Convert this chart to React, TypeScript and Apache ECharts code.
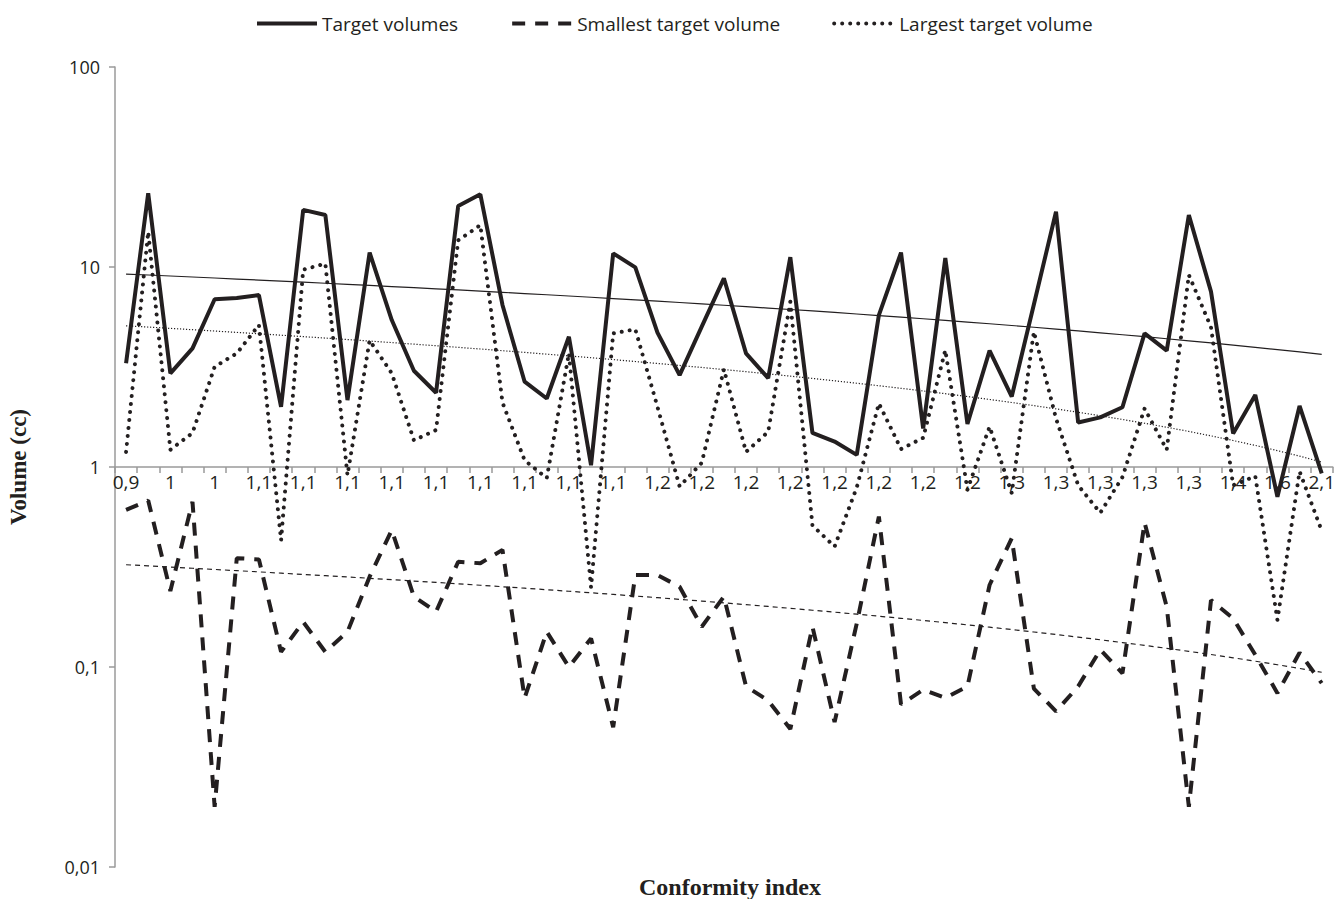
import React, { useEffect, useRef } from "react";
import * as echarts from "echarts";

const categories: string[] = [
  "0,9", "1", "1", "1", "1", "1", "1,1", "1,1", "1,1", "1,1",
  "1,1", "1,1", "1,1", "1,1", "1,1", "1,1", "1,1", "1,1", "1,1", "1,1",
  "1,1", "1,1", "1,1", "1,2", "1,2", "1,2", "1,2", "1,2", "1,2", "1,2",
  "1,2", "1,2", "1,2", "1,2", "1,2", "1,2", "1,2", "1,2", "1,2", "1,3",
  "1,3", "1,3", "1,3", "1,3", "1,3", "1,3", "1,3", "1,3", "1,3", "1,3",
  "1,4", "1,5", "1,6", "1,8", "2,1",
];

const targetVolumes: number[] = [
  3.3, 23.4, 2.94, 3.92, 6.9, 7.0, 7.24, 2.0, 19.3, 18.2,
  2.16, 11.8, 5.43, 3.03, 2.35, 20.2, 23.1, 6.46, 2.67, 2.2,
  4.48, 1.02, 11.7, 9.96, 4.7, 2.88, 5.03, 8.78, 3.7, 2.78,
  11.2, 1.48, 1.34, 1.15, 5.75, 11.8, 1.56, 11.1, 1.64, 3.82,
  2.25, 6.5, 18.9, 1.67, 1.77, 1.99, 4.66, 3.82, 18.2, 7.53,
  1.47, 2.29, 0.71, 2.02, 0.93,
];

const smallestVolume: number[] = [
  0.61, 0.68, 0.24, 0.67, 0.02, 0.35, 0.345, 0.119, 0.168, 0.119,
  0.15, 0.283, 0.484, 0.225, 0.189, 0.336, 0.33, 0.385, 0.07, 0.15,
  0.1, 0.139, 0.05, 0.288, 0.288, 0.252, 0.159, 0.225, 0.08, 0.068,
  0.049, 0.159, 0.053, 0.165, 0.565, 0.065, 0.077, 0.07, 0.08, 0.257,
  0.44, 0.078, 0.06, 0.08, 0.122, 0.093, 0.527, 0.2, 0.02, 0.216,
  0.175, 0.115, 0.074, 0.118, 0.083,
];

const largestVolume: number[] = [
  1.19, 15.0, 1.22, 1.48, 3.17, 3.7, 5.13, 0.43, 9.7, 10.4,
  0.91, 4.3, 2.94, 1.36, 1.53, 13.6, 16.2, 2.1, 1.08, 0.88,
  3.7, 0.25, 4.66, 4.88, 2.0, 0.8, 1.05, 3.08, 1.19, 1.5,
  6.7, 0.51, 0.4, 0.79, 2.08, 1.23, 1.4, 3.84, 0.77, 1.59,
  0.74, 4.75, 1.75, 0.81, 0.59, 0.89, 1.96, 1.22, 9.12, 5.0,
  0.81, 0.9, 0.172, 0.95, 0.48,
];

const yTicks: number[] = [0.01, 0.1, 1, 10, 100];

// Linear trendline (least squares), as Excel computes it
function linearTrend(values: number[]): number[] {
  const n = values.length;
  let sx = 0, sy = 0, sxx = 0, sxy = 0;
  values.forEach((v, i) => {
    sx += i; sy += v; sxx += i * i; sxy += i * v;
  });
  const b = (n * sxy - sx * sy) / (n * sxx - sx * sx);
  const a = (sy - b * sx) / n;
  return values.map((_, i) => a + b * i);
}

const INK = "#231f20";
const AXIS = "#9a9a9a";
const FONT = "'Open Sans', 'Liberation Sans', sans-serif";

const SOLID = { color: INK, width: 4, type: "solid" as any };
const DASHED = { color: INK, width: 4, type: [13, 10] as any };
const DOTTED = { color: INK, width: 4, type: [0.01, 8] as any, cap: "round" as any };

export default function App() {
  const ref = useRef<HTMLDivElement>(null);

  useEffect(() => {
    if (!ref.current) return;
    const chart = echarts.init(ref.current, undefined, { renderer: "svg" });
    const option: any = {
      animation: false,
      backgroundColor: "#ffffff",
      textStyle: { fontFamily: FONT, color: INK },
      grid: { left: 115, right: 2, top: 67, bottom: 32, containLabel: false },
      legend: {
        data: [
          { name: "Target volumes", lineStyle: SOLID, itemStyle: { opacity: 0 } },
          { name: "Smallest target volume", lineStyle: DASHED, itemStyle: { opacity: 0 } },
          { name: "Largest target volume", lineStyle: DOTTED, itemStyle: { opacity: 0 } },
        ],
        left: 250,
        top: 9,
        itemWidth: 60,
        itemHeight: 14,
        itemGap: 52,
        textStyle: { fontFamily: FONT, fontSize: 19, color: INK },
      },
      xAxis: {
        type: "category",
        data: categories,
        boundaryGap: true,
        position: "bottom",
        offset: -400,
        axisLine: { show: true, onZero: false, lineStyle: { color: AXIS, width: 1.5 } },
        axisTick: { show: true, interval: 0, length: 6, lineStyle: { color: AXIS, width: 1.5 } },
        axisLabel: {
          interval: 1,
          margin: 5,
          fontFamily: FONT,
          fontSize: 19,
          color: INK,
        },
        splitLine: { show: false },
      },
      yAxis: {
        type: "log",
        logBase: 10,
        min: yTicks[0],
        max: yTicks[yTicks.length - 1],
        axisLine: { show: true, lineStyle: { color: AXIS, width: 1.5 } },
        axisTick: { show: true, length: 6, lineStyle: { color: AXIS, width: 1.5 } },
        axisLabel: {
          margin: 15,
          fontFamily: FONT,
          fontSize: 18,
          color: INK,
          formatter: (v: number) => String(v).replace(".", ","),
        },
        splitLine: { show: false },
      },
      graphic: [
        {
          type: "text",
          x: 18,
          y: 467,
          rotation: Math.PI / 2,
          style: {
            text: "Volume (cc)",
            font: "bold 23px 'Liberation Serif', 'Times New Roman', serif",
            fill: INK,
            textAlign: "center",
            textVerticalAlign: "middle",
          },
        },
        {
          type: "text",
          x: 730,
          y: 887,
          style: {
            text: "Conformity index",
            font: "bold 24px 'Liberation Serif', 'Times New Roman', serif",
            fill: INK,
            textAlign: "center",
            textVerticalAlign: "middle",
          },
        },
      ],
      series: [
        {
          name: "Target volumes",
          type: "line",
          data: targetVolumes,
          symbol: "none",
          lineStyle: SOLID,
          itemStyle: { color: INK },
          z: 5,
        },
        {
          name: "Smallest target volume",
          type: "line",
          data: smallestVolume,
          symbol: "none",
          lineStyle: DASHED,
          itemStyle: { color: INK },
          z: 4,
        },
        {
          name: "Largest target volume",
          type: "line",
          data: largestVolume,
          symbol: "none",
          lineStyle: DOTTED,
          itemStyle: { color: INK },
          z: 3,
        },
        {
          name: "Trend target",
          type: "line",
          data: linearTrend(targetVolumes),
          symbol: "none",
          lineStyle: { color: INK, width: 1.2, type: "solid" },
          z: 2,
          silent: true,
        },
        {
          name: "Trend smallest",
          type: "line",
          data: linearTrend(smallestVolume),
          symbol: "none",
          lineStyle: { color: INK, width: 1.2, type: [5, 4] },
          z: 2,
          silent: true,
        },
        {
          name: "Trend largest",
          type: "line",
          data: linearTrend(largestVolume),
          symbol: "none",
          lineStyle: { color: INK, width: 1.2, type: [1.2, 1.8] },
          z: 2,
          silent: true,
        },
      ],
    };
    chart.setOption(option);
    return () => chart.dispose();
  }, []);

  return <div ref={ref} style={{ width: 1338, height: 899, position: "absolute", left: 0, top: 0 }} />;
}
